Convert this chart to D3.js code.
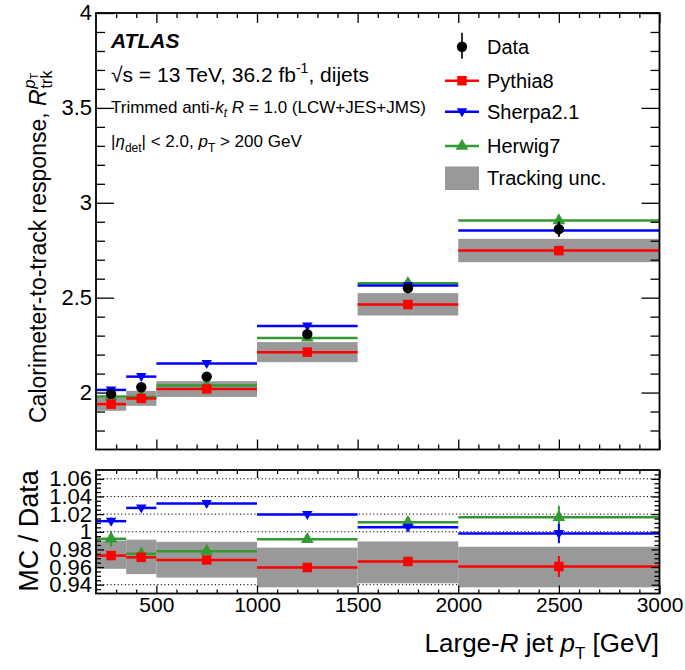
<!DOCTYPE html>
<html>
<head>
<meta charset="utf-8">
<script src="https://cdn.jsdelivr.net/npm/d3@7"></script>
<style>
  body { margin: 0; background: #fff; }
  text { font-family: "Liberation Sans", Arial, Helvetica, sans-serif; fill: #000; }
</style>
</head>
<body>
<svg id="contenedor"></svg>
<script>
// bins de pT del jet large-R (GeV)
let binEdges = [200, 350, 500, 1000, 1500, 2000, 3000];
let binCenters = [275, 425, 750, 1250, 1750, 2500];

// respuesta calorimetro / tracks (panel de arriba)
let dataResp = [1.993, 2.028, 2.084, 2.308, 2.550, 2.861];
let dataErr = [0.006, 0.005, 0.005, 0.006, 0.010, 0.040];
let pythiaResp = [1.939, 1.969, 2.019, 2.213, 2.464, 2.748];
let sherpaResp = [2.014, 2.084, 2.153, 2.351, 2.564, 2.854];
let herwigResp = [1.979, 1.977, 2.037, 2.288, 2.576, 2.906];
let trackUncLo = [1.904, 1.930, 1.977, 2.160, 2.406, 2.687];
let trackUncHi = [1.972, 2.009, 2.060, 2.266, 2.524, 2.810];

// cociente MC / Data (panel de abajo)
let pythiaRatio = [0.973, 0.971, 0.968, 0.9595, 0.9663, 0.9606];
let pythiaRatioErr = [0.004, 0.002, 0.002, 0.002, 0.003, 0.012];
let sherpaRatio = [1.012, 1.027, 1.032, 1.0195, 1.005, 0.998];
let sherpaRatioErr = [0.004, 0.002, 0.002, 0.002, 0.003, 0.011];
let herwigRatio = [0.992, 0.975, 0.978, 0.9915, 1.0107, 1.0164];
let herwigRatioErr = [0.009, 0.003, 0.003, 0.003, 0.004, 0.013];
let ratioUncLo = [0.958, 0.952, 0.948, 0.937, 0.9416, 0.937];
let ratioUncHi = [0.990, 0.991, 0.9886, 0.982, 0.989, 0.983];

// etiquetas de los ejes
let xTicks = [500, 1000, 1500, 2000, 2500, 3000];
let yTopTicks = [2, 2.5, 3, 3.5, 4];
let yTopLabels = ["2", "2.5", "3", "3.5", "4"];
let yBotTicks = [0.94, 0.96, 0.98, 1, 1.02, 1.04, 1.06];
let yBotLabels = ["0.94", "0.96", "0.98", "1", "1.02", "1.04", "1.06"];

// leyenda
let legendNames = ["Data", "Pythia8", "Sherpa2.1", "Herwig7", "Tracking unc."];

let colores = { data: "#000000", pythia: "#ff0000", sherpa: "#0000ff", herwig: "#339933", unc: "#999999" };

// configuracion del contenedor
function getConfig() {
  let width = 685;
  let height = 670;
  let left = 96;
  let right = 659.5;
  let top = { y0: 13, y1: 449.5 };
  let bot = { y0: 470, y1: 593.5 };
  let container = d3.select("#contenedor").attr("width", width).attr("height", height);
  return { width, height, left, right, top, bot, container };
} // fin getConfig

// escalas
function getScales(config) {
  let { left, right, top, bot } = config;
  let x = d3.scaleLinear().domain([200, 3000]).range([left, right]);
  let yTop = d3.scaleLinear().domain([1.7, 4]).range([top.y1, top.y0]);
  let yBot = d3.scaleLinear().domain([0.93, 1.07]).range([bot.y1, bot.y0]);
  return { x, yTop, yBot };
} // fin getScales

// dibuja un eje de ticks hacia dentro (estilo ROOT), con ticks mayores y menores
function dibujarTicks(container, axisFn, scale, pos, mayores, menores, lenMayor, lenMenor, labels, fontSize) {
  let isVertical = axisFn === d3.axisLeft || axisFn === d3.axisRight;
  let tr = isVertical ? `translate(${pos},0)` : `translate(0,${pos})`;

  let ejeMenor = axisFn(scale).tickValues(menores).tickSize(-lenMenor).tickFormat("");
  container.append("g").attr("transform", tr).call(ejeMenor)
    .call((g) => g.select(".domain").remove())
    .selectAll("line").attr("stroke-width", 1.3);

  let ejeMayor = axisFn(scale).tickValues(mayores).tickSize(-lenMayor).tickPadding(4)
    .tickFormat((d, i) => (labels ? labels[i] : ""));
  let g = container.append("g").attr("transform", tr).call(ejeMayor);
  g.select(".domain").remove();
  g.selectAll("line").attr("stroke-width", 1.3);
  g.selectAll("text").style("font-size", fontSize + "px").style("font-family", null).attr("fill", "#000");
  return g;
} // fin dibujarTicks

// ejes y marcos
function dibujarEjes(scales, config) {
  let { x, yTop, yBot } = scales;
  let { container, left, right, top, bot } = config;

  let xMinor = d3.range(300, 3000, 100).filter((d) => d % 500 !== 0);
  let yTopMinor = d3.range(1.8, 4.0, 0.1).filter((d) => Math.abs(d * 2 - Math.round(d * 2)) > 0.01);
  let yBotMinor = d3.range(0.935, 1.07, 0.005).filter((d) => Math.abs(d * 50 - Math.round(d * 50)) > 0.01);

  // panel de arriba
  dibujarTicks(container, d3.axisBottom, x, top.y1, xTicks, xMinor, 10, 5, null, 21);
  dibujarTicks(container, d3.axisTop, x, top.y0, xTicks, xMinor, 10, 5, null, 21);
  let gy = dibujarTicks(container, d3.axisLeft, yTop, left, yTopTicks, yTopMinor, 18, 9, yTopLabels, 22);
  gy.selectAll("text").attr("dy", "0.3em");
  dibujarTicks(container, d3.axisRight, yTop, right, yTopTicks, yTopMinor, 18, 9, null, 22);

  // panel de abajo
  let gx = dibujarTicks(container, d3.axisBottom, x, bot.y1, xTicks, xMinor, 8, 4, xTicks.map(String), 21);
  gx.selectAll("text").attr("y", 4).attr("dy", "0.71em").style("font-size", "21px");
  dibujarTicks(container, d3.axisTop, x, bot.y0, xTicks, xMinor, 8, 4, null, 21);
  let gyb = dibujarTicks(container, d3.axisLeft, yBot, left, yBotTicks, yBotMinor, 8, 5, yBotLabels, 22);
  gyb.selectAll("text").attr("dy", "0.32em");
  dibujarTicks(container, d3.axisRight, yBot, right, yBotTicks, yBotMinor, 8, 5, null, 22);

  // marcos
  [top, bot].forEach((p) => {
    container.append("rect")
      .attr("x", left).attr("y", p.y0)
      .attr("width", right - left).attr("height", p.y1 - p.y0)
      .attr("fill", "none").attr("stroke", "#000").attr("stroke-width", 1.8);
  });
} // fin dibujarEjes

// banda de incertidumbre (rectangulos por bin)
function dibujarBanda(body, x, y, lo, hi) {
  body.append("g").selectAll("rect").data(lo).join("rect")
    .attr("x", (d, i) => x(binEdges[i]))
    .attr("width", (d, i) => x(binEdges[i + 1]) - x(binEdges[i]))
    .attr("y", (d, i) => y(hi[i]))
    .attr("height", (d, i) => y(d) - y(hi[i]))
    .attr("fill", colores.unc);
} // fin dibujarBanda

// serie MC: linea horizontal en todo el bin + marcador + barra de error
function dibujarSerie(body, x, y, valores, errores, color, simbolo) {
  let g = body.append("g");
  g.selectAll(".h").data(valores).join("line").attr("class", "h")
    .attr("x1", (d, i) => x(binEdges[i])).attr("x2", (d, i) => x(binEdges[i + 1]))
    .attr("y1", (d) => y(d)).attr("y2", (d) => y(d))
    .attr("stroke", color).attr("stroke-width", 2.5);
  g.selectAll(".v").data(valores).join("line").attr("class", "v")
    .attr("x1", (d, i) => x(binCenters[i])).attr("x2", (d, i) => x(binCenters[i]))
    .attr("y1", (d, i) => y(d - errores[i])).attr("y2", (d, i) => y(d + errores[i]))
    .attr("stroke", color).attr("stroke-width", 2);
  g.selectAll("path").data(valores).join("path")
    .attr("transform", (d, i) => `translate(${x(binCenters[i])},${y(d)})`)
    .attr("d", simbolo).attr("fill", color);
} // fin dibujarSerie

let simboloCuadrado = d3.symbol().type(d3.symbolSquare).size(90)();
let simboloTriangulo = d3.symbol().type(d3.symbolTriangle).size(70)();
let simboloTrianguloAbajo = "M0,5.5L-5.2,-3.5L5.2,-3.5Z";

// datos: puntos negros con barra de error vertical
function dibujarDatos(body, x, y) {
  let g = body.append("g");
  g.selectAll("line").data(dataResp).join("line")
    .attr("x1", (d, i) => x(binCenters[i])).attr("x2", (d, i) => x(binCenters[i]))
    .attr("y1", (d, i) => y(d - dataErr[i])).attr("y2", (d, i) => y(d + dataErr[i]))
    .attr("stroke", colores.data).attr("stroke-width", 2);
  g.selectAll("circle").data(dataResp).join("circle")
    .attr("cx", (d, i) => x(binCenters[i])).attr("cy", (d) => y(d))
    .attr("r", 5.2).attr("fill", colores.data);
} // fin dibujarDatos

// textos dentro del panel de arriba
function dibujarTextos(container) {
  container.append("text").attr("x", 111).attr("y", 48)
    .style("font-size", "21px").style("font-weight", "bold").style("font-style", "italic").text("ATLAS");

  let t1 = container.append("text").attr("x", 111).attr("y", 82).style("font-size", "21px");
  t1.append("tspan").text("\u221As = 13 TeV, 36.2 fb");
  t1.append("tspan").attr("dy", -9).style("font-size", "14px").text("-1");
  t1.append("tspan").attr("dy", 9).text(", dijets");

  let t2 = container.append("text").attr("x", 111).attr("y", 113).style("font-size", "17px");
  t2.append("tspan").text("Trimmed anti-");
  t2.append("tspan").style("font-style", "italic").text("k");
  t2.append("tspan").attr("dy", 4).style("font-size", "12px").style("font-style", "italic").text("t");
  t2.append("tspan").attr("dy", -4).text(" ");
  t2.append("tspan").style("font-style", "italic").text("R");
  t2.append("tspan").text(" = 1.0 (LCW+JES+JMS)");

  let t3 = container.append("text").attr("x", 111).attr("y", 147).style("font-size", "17px");
  t3.append("tspan").text("|");
  t3.append("tspan").style("font-style", "italic").text("\u03B7");
  t3.append("tspan").attr("dy", 5).style("font-size", "12px").text("det");
  t3.append("tspan").attr("dy", -5).text("| < 2.0, ");
  t3.append("tspan").style("font-style", "italic").text("p");
  t3.append("tspan").attr("dy", 5).style("font-size", "12px").text("T");
  t3.append("tspan").attr("dy", -5).text(" > 200 GeV");
} // fin dibujarTextos

// leyenda
function dibujarLeyenda(container) {
  let lx0 = 445, lx1 = 479, mx = 462, tx = 487;
  let ys = [46.7, 80.7, 111.7, 146, 178];
  let g = container.append("g");

  // Data
  g.append("line").attr("x1", mx).attr("x2", mx).attr("y1", ys[0] - 14).attr("y2", ys[0] + 12)
    .attr("stroke", "#333").attr("stroke-width", 2);
  g.append("circle").attr("cx", mx).attr("cy", ys[0]).attr("r", 5.2).attr("fill", colores.data);

  // MC
  let mc = [
    { color: colores.pythia, sym: simboloCuadrado },
    { color: colores.sherpa, sym: simboloTrianguloAbajo },
    { color: colores.herwig, sym: simboloTriangulo },
  ];
  mc.forEach((m, i) => {
    let yy = ys[i + 1];
    g.append("line").attr("x1", lx0).attr("x2", lx1).attr("y1", yy).attr("y2", yy)
      .attr("stroke", m.color).attr("stroke-width", 2.5);
    g.append("path").attr("transform", `translate(${mx},${yy})`).attr("d", m.sym).attr("fill", m.color);
  });

  // banda
  g.append("rect").attr("x", lx0).attr("y", 166.5).attr("width", lx1 - lx0).attr("height", 23.5).attr("fill", colores.unc);

  g.selectAll("text").data(legendNames).join("text")
    .attr("x", tx).attr("y", (d, i) => ys[i] + 7)
    .style("font-size", "20px").text((d) => d);
} // fin dibujarLeyenda

// titulos de los ejes
function dibujarTitulos(container) {
  // eje y de arriba
  let gy = container.append("g").attr("transform", "translate(46,423) rotate(-90)");
  let ty = gy.append("text").style("font-size", "23px");
  ty.append("tspan").text("Calorimeter-to-track response, ");
  ty.append("tspan").style("font-style", "italic").text("R");
  let L = ty.node().getComputedTextLength();
  gy.append("text").attr("x", L + 1).attr("y", 6).style("font-size", "16px").text("trk");
  let tp = gy.append("text").attr("x", L + 1).attr("y", -11).style("font-size", "16px");
  tp.append("tspan").style("font-style", "italic").text("p");
  tp.append("tspan").attr("dy", 3).style("font-size", "11px").text("T");

  // eje y de abajo
  container.append("text").attr("transform", "translate(38,531) rotate(-90)")
    .attr("text-anchor", "middle").style("font-size", "27px").text("MC / Data");

  // eje x
  let tx = container.append("text").attr("x", 659).attr("y", 652)
    .attr("text-anchor", "end").style("font-size", "26px");
  tx.append("tspan").text("Large-");
  tx.append("tspan").style("font-style", "italic").text("R");
  tx.append("tspan").text(" jet ");
  tx.append("tspan").style("font-style", "italic").text("p");
  tx.append("tspan").attr("dy", 7).style("font-size", "17px").text("T");
  tx.append("tspan").attr("dy", -7).text(" [GeV]");
} // fin dibujarTitulos

function dibujarChart() {
  let config = getConfig();
  let scales = getScales(config);
  let { x, yTop, yBot } = scales;
  let { container, left, right } = config;

  container.append("rect").attr("width", config.width).attr("height", config.height).attr("fill", "#fff");

  // panel de arriba
  let body = container.append("g");
  dibujarBanda(body, x, yTop, trackUncLo, trackUncHi);
  dibujarSerie(body, x, yTop, herwigResp, dataErr.map((d) => d * 0.6), colores.herwig, simboloTriangulo);
  dibujarSerie(body, x, yTop, sherpaResp, dataErr.map((d) => d * 0.5), colores.sherpa, simboloTrianguloAbajo);
  dibujarSerie(body, x, yTop, pythiaResp, dataErr.map((d) => d * 0.5), colores.pythia, simboloCuadrado);
  dibujarDatos(body, x, yTop);

  // panel de abajo: rejilla punteada
  let grid = container.append("g");
  grid.selectAll("line").data(yBotTicks).join("line")
    .attr("x1", left).attr("x2", right)
    .attr("y1", (d) => yBot(d)).attr("y2", (d) => yBot(d))
    .attr("stroke", "#000").attr("stroke-width", 1).attr("stroke-dasharray", "1.2,2.4");

  let body2 = container.append("g");
  dibujarBanda(body2, x, yBot, ratioUncLo, ratioUncHi);
  dibujarSerie(body2, x, yBot, herwigRatio, herwigRatioErr, colores.herwig, simboloTriangulo);
  dibujarSerie(body2, x, yBot, sherpaRatio, sherpaRatioErr, colores.sherpa, simboloTrianguloAbajo);
  dibujarSerie(body2, x, yBot, pythiaRatio, pythiaRatioErr, colores.pythia, simboloCuadrado);

  dibujarEjes(scales, config);
  dibujarTextos(container);
  dibujarLeyenda(container);
  dibujarTitulos(container);
} // fin dibujarChart

dibujarChart();
</script>
</body>
</html>
